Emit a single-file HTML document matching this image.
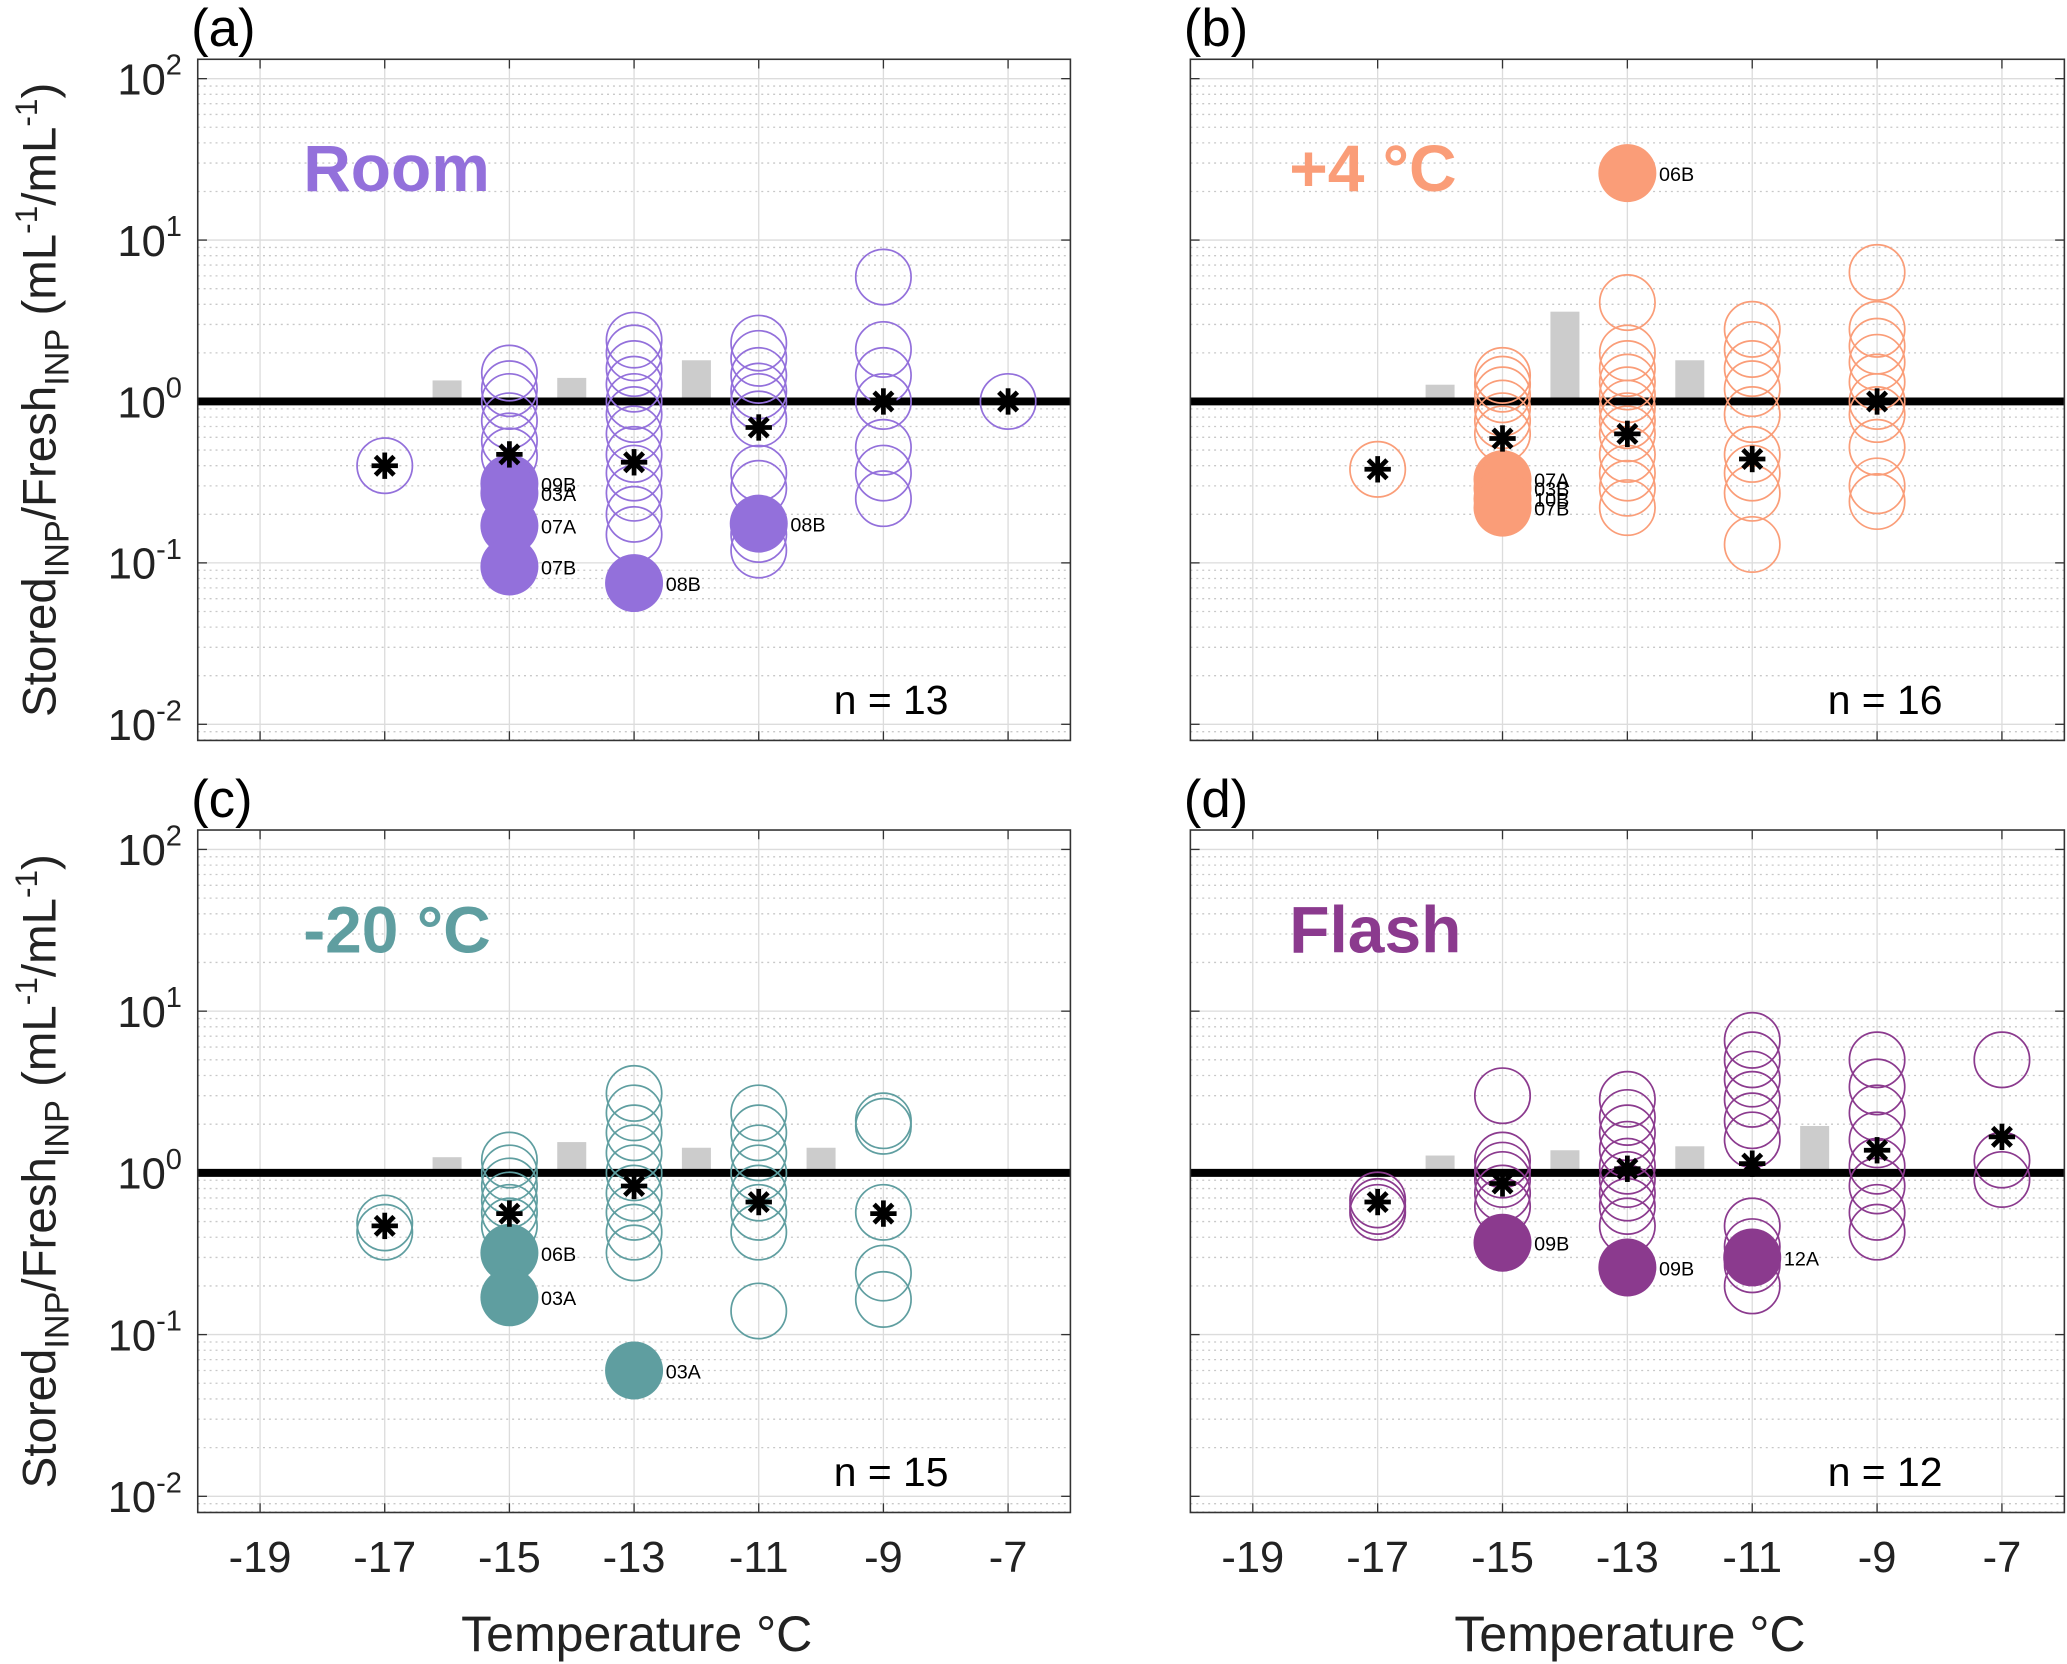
<!DOCTYPE html>
<html><head><meta charset="utf-8"><style>html,body{margin:0;padding:0;background:#fff}svg{display:block}</style></head>
<body>
<svg id="fig" width="2067" height="1664" viewBox="0 0 1568 1263" preserveAspectRatio="none" xmlns="http://www.w3.org/2000/svg" font-family="'Liberation Sans','DejaVu Sans',sans-serif"></svg>
<script>
// ---- data ----
const temps = [-17,-15,-13,-11,-9,-7];
const barTemps = [-16,-14,-12,-10];
const panelTitles = ["Room","+4 \u00B0C","-20 \u00B0C","Flash"];
const panelColors = ["#9370DB","#FA9D78","#5F9EA0","#8B3A8E"];
const panelN = ["n = 13","n = 16","n = 15","n = 12"];
const barsA = [1.35,1.4,1.8,null];
const barsB = [1.27,3.6,1.8,null];
const barsC = [1.25,1.55,1.43,1.43];
const barsD = [1.28,1.38,1.46,1.95];
const openA = [[0.4],[1.5,1.2,1.0,0.76,0.57,0.46],[2.4,2.0,1.6,1.28,1.0,0.83,0.63,0.47,0.36,0.27,0.2,0.15],[2.3,1.85,1.45,1.16,1.0,0.78,0.36,0.29,0.15,0.12],[5.9,2.1,1.45,1.0,0.52,0.36,0.25],[1.0]];
const openB = [[0.38],[1.45,1.28,1.1,0.91,0.76,0.63],[4.1,2.0,1.6,1.32,1.1,0.91,0.76,0.63,0.47,0.36,0.29,0.22],[2.8,2.1,1.6,1.2,0.83,0.47,0.36,0.27,0.13],[6.3,2.8,2.2,1.75,1.32,1.0,0.83,0.52,0.3,0.24],[]];
const openC = [[0.49,0.43],[1.2,1.0,0.83,0.68,0.57,0.47],[3.1,2.35,1.77,1.33,1.0,0.75,0.57,0.43,0.32],[2.35,1.77,1.33,1.0,0.75,0.57,0.43,0.14],[2.1,1.94,0.57,0.24,0.165],[]];
const openD = [[0.68,0.62,0.57],[3.0,1.2,1.04,0.91,0.75,0.62],[2.85,2.2,1.77,1.4,1.1,0.91,0.75,0.62,0.47],[6.6,5.0,3.8,2.85,2.1,1.6,0.47,0.35,0.27,0.2],[5.0,3.4,2.35,1.6,1.1,0.83,0.57,0.43],[5.0,1.2,0.91]];
const medA = [0.4,0.47,0.42,0.69,1.0,1.0];
const medB = [0.38,0.59,0.63,0.44,1.0,null];
const medC = [0.47,0.56,0.83,0.66,0.56,null];
const medD = [0.66,0.86,1.06,1.14,1.38,1.67];
const filledA = [[-15,0.31,"09B"],[-15,0.27,"03A"],[-15,0.17,"07A"],[-15,0.095,"07B"],[-13,0.075,"08B"],[-11,0.175,"08B"]];
const filledB = [[-13,26,"06B"],[-15,0.33,"07A"],[-15,0.29,"03B"],[-15,0.25,"10B"],[-15,0.22,"07B"]];
const filledC = [[-15,0.32,"06B"],[-15,0.17,"03A"],[-13,0.06,"03A"]];
const filledD = [[-15,0.37,"09B"],[-13,0.26,"09B"],[-11,0.3,"12A"]];
const xTicks = [-19,-17,-15,-13,-11,-9,-7];
const yTickExp = [2,1,0,-1,-2];

const panels = [
 {L:150,R:812,T:45,B:562,letter:"(a)",bars:barsA,open:openA,med:medA,filled:filledA,xl:false,yl:true},
 {L:903,R:1566,T:45,B:562,letter:"(b)",bars:barsB,open:openB,med:medB,filled:filledB,xl:false,yl:false},
 {L:150,R:812,T:630,B:1148,letter:"(c)",bars:barsC,open:openC,med:medC,filled:filledC,xl:true,yl:true},
 {L:903,R:1566,T:630,B:1148,letter:"(d)",bars:barsD,open:openD,med:medD,filled:filledD,xl:true,yl:false}
];
const NS="http://www.w3.org/2000/svg";
const svg=document.getElementById('fig');
function mk(tag,attrs,parent,txt){const e=document.createElementNS(NS,tag);for(const k in attrs)e.setAttribute(k,attrs[k]);if(txt!==undefined)e.textContent=txt;(parent||svg).appendChild(e);return e;}
const Y0=-2.1,Y1=2.12,X0=-20,X1=-6;
panels.forEach((p,i)=>{
 const g=mk('g',{});
 
 
 const sx=v=>p.L+(v-X0)/(X1-X0)*(p.R-p.L);
 const sy=v=>p.B-(Math.log10(v)-Y0)/(Y1-Y0)*(p.B-p.T);
 const col=panelColors[i];
 for(let e=-3;e<=2;e++)for(let m=2;m<=9;m++){const v=m*Math.pow(10,e);const y=sy(v);if(y<p.T||y>p.B)continue;
  const l=mk('line',{x1:p.L,x2:p.R,y1:y,y2:y,stroke:'#c8c8c8','stroke-width':1,'stroke-dasharray':'1.5,3'},g);
  }
 yTickExp.forEach(e=>{const y=sy(Math.pow(10,e));
  const l=mk('line',{x1:p.L,x2:p.R,y1:y,y2:y,stroke:'#dcdcdc','stroke-width':1},g);
  
  mk('line',{x1:p.L,x2:p.L+7,y1:y,y2:y,stroke:'#333'},g);mk('line',{x1:p.R,x2:p.R-7,y1:y,y2:y,stroke:'#333'},g);
  if(p.yl){const t=mk('text',{x:p.L-12,y:y+12,'text-anchor':'end','font-size':33,fill:'#222'},g);
   
   mk('tspan',{},t,'10');mk('tspan',{dy:-15,'font-size':22},t,String(e));}
 });
 xTicks.forEach(v=>{const x=sx(v);
  const l=mk('line',{x1:x,x2:x,y1:p.T,y2:p.B,stroke:'#dcdcdc','stroke-width':1},g);
  
  mk('line',{x1:x,x2:x,y1:p.B,y2:p.B-7,stroke:'#333'},g);mk('line',{x1:x,x2:x,y1:p.T,y2:p.T+7,stroke:'#333'},g);
  if(p.xl){const t=mk('text',{x:x,y:p.B+45,'text-anchor':'middle','font-size':33,fill:'#222'},g,String(v));
   }
 });
 barTemps.forEach((t,j)=>{const v=p.bars[j];if(v==null)return;const x=sx(t);
  const r=mk('rect',{x:x-11,y:sy(v),width:22,height:sy(1)-sy(v),fill:'#cccccc'},g);
  });
 const rl=mk('line',{x1:p.L,x2:p.R,y1:sy(1),y2:sy(1),stroke:'#000','stroke-width':6},g);
 
 temps.forEach((t,j)=>{p.open[j].forEach(v=>{
  const c=mk('circle',{cx:sx(t),cy:sy(v),r:21,fill:'none',stroke:col,'stroke-width':1.3},g);
  });});
 p.filled.forEach(f=>{const x=sx(f[0]),y=sy(f[1]);
  const c=mk('circle',{cx:x,cy:y,r:22,fill:col},g);
  
  const t=mk('text',{x:x+24,y:y+6,'font-size':15,fill:'#000'},g,f[2]);
  });
 temps.forEach((t,j)=>{const v=p.med[j];if(v==null)return;const x=sx(t),y=sy(v);
  const m=mk('g',{stroke:'#000','stroke-width':3.6,'stroke-linecap':'butt'},g);
  
  [0,45,90,135].forEach(a=>{const r=a*Math.PI/180,d=10;
   mk('line',{x1:x-d*Math.cos(r),y1:y-d*Math.sin(r),x2:x+d*Math.cos(r),y2:y+d*Math.sin(r)},m);});});
 const b=mk('rect',{x:p.L,y:p.T,width:p.R-p.L,height:p.B-p.T,fill:'none',stroke:'#333','stroke-width':1.2},g);
 
 const ttl=mk('text',{x:p.L+(i%2?75:80),y:p.T+(i<2?100:93),'font-size':50,'font-weight':'bold',fill:col},g,panelTitles[i]);
 
 const n=mk('text',{x:p.R-136,y:p.B-20,'font-size':31,'text-anchor':'middle',fill:'#000'},g,panelN[i]);
 
 const lt=mk('text',{x:p.L-5,y:p.T-10,'font-size':40,fill:'#000'},g,p.letter);
 
 if(p.yl){const cy=(p.T+p.B)/2;
  const yt=mk('text',{transform:`translate(42,${cy}) rotate(-90)`,'text-anchor':'middle','font-size':36,fill:'#222'},g);
  
  mk('tspan',{},yt,'Stored');mk('tspan',{dy:10,'font-size':26},yt,'INP');mk('tspan',{dy:-10},yt,'/Fresh');
  mk('tspan',{dy:10,'font-size':26},yt,'INP');mk('tspan',{dy:-10},yt,' (mL');mk('tspan',{dy:-14,'font-size':24},yt,'-1');
  mk('tspan',{dy:14},yt,'/mL');mk('tspan',{dy:-14,'font-size':24},yt,'-1');mk('tspan',{dy:14},yt,')');}
 if(p.xl){const xt=mk('text',{x:(p.L+p.R)/2+2,y:1253,'text-anchor':'middle','font-size':38,fill:'#222'},g,'Temperature \u00B0C');
  }
});
</script>
</body></html>
